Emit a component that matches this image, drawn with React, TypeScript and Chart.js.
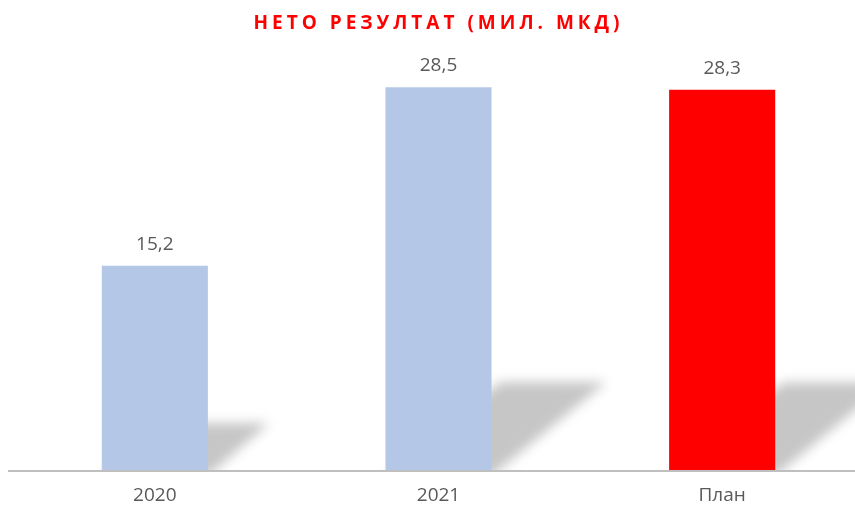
import React, { useEffect, useRef } from "react";
import { Chart, registerables } from "chart.js";

Chart.register(...registerables);

const categories = ["2020", "2021", "План"];
const values = [15.2, 28.5, 28.3];
const barColors = ["#B4C7E7", "#B4C7E7", "#FF0000"];
const titleText = "НЕТО РЕЗУЛТАТ (МИЛ. МКД)";
const yMax = 30;

const fmt = (v: number) => v.toFixed(1).replace(".", ",");

const shadowPlugin = {
  id: "barShadows",
  beforeDatasetsDraw(chart: any) {
    const ctx = chart.ctx;
    const meta = chart.getDatasetMeta(0);
    ctx.save();
    const base0 = chart.scales.y.getPixelForValue(0);
    ctx.beginPath();
    ctx.rect(0, 0, chart.width, base0);
    ctx.clip();
    ctx.filter = "blur(6px)";
    ctx.fillStyle = "#c6c6c6";
    meta.data.forEach((bar: any) => {
      const { x, y, base, width } = bar.getProps(["x", "y", "base", "width"], true);
      const H = base - y;
      const L = x - width / 2;
      const R = x + width / 2;
      const dx = H * 0.3;
      const dy = H * 0.23;
      ctx.beginPath();
      ctx.moveTo(L, base + 6);
      ctx.lineTo(R, base + 6);
      ctx.lineTo(R + dx, base - dy);
      ctx.lineTo(L + dx, base - dy);
      ctx.closePath();
      ctx.fill();
    });
    ctx.restore();
  },
  afterDatasetsDraw(chart: any) {
    const ctx = chart.ctx;
    const meta = chart.getDatasetMeta(0);
    ctx.save();
    ctx.font = '19px "Open Sans"';
    ctx.fillStyle = "#595959";
    ctx.textAlign = "center";
    ctx.textBaseline = "alphabetic";
    meta.data.forEach((bar: any, i: number) => {
      const { x, y } = bar.getProps(["x", "y"], true);
      ctx.fillText(fmt(values[i]), x, y - 16);
    });
    // axis line
    const yb = chart.scales.y.getPixelForValue(0);
    ctx.strokeStyle = "#BFBFBF";
    ctx.lineWidth = 2;
    ctx.beginPath();
    ctx.moveTo(8, yb + 1);
    ctx.lineTo(855, yb + 1);
    ctx.stroke();
    // title
    ctx.font = 'bold 19px "Open Sans"';
    ctx.fillStyle = "#FF0000";
    (ctx as any).letterSpacing = "4px";
    ctx.textAlign = "center";
    ctx.textBaseline = "middle";
    ctx.fillText(titleText, 438.5, 24);
    ctx.restore();
  },
};

export default function App() {
  const ref = useRef<HTMLCanvasElement>(null);
  useEffect(() => {
    if (!ref.current) return;
    const chart = new Chart(ref.current, {
      type: "bar",
      data: {
        labels: categories,
        datasets: [
          {
            data: values,
            backgroundColor: barColors,
            categoryPercentage: 1,
            barPercentage: 0.374,
          },
        ],
      },
      options: {
        responsive: false,
        animation: false,
        devicePixelRatio: 1,
        layout: { padding: { top: 67, left: 13, right: 0, bottom: 0 } },
        plugins: {
          legend: { display: false },
          title: { display: false },
          tooltip: { enabled: false },
        },
        scales: {
          x: {
            grid: { display: false, drawTicks: false },
            border: { display: false },
            ticks: {
              padding: 14,
              color: "#595959",
              font: { family: "Open Sans", size: 19 },
            },
            afterFit: (scale: any) => {
              scale.height = 43;
            },
          },
          y: {
            display: false,
            min: 0,
            max: yMax,
          },
        },
      },
      plugins: [shadowPlugin],
    });
    return () => chart.destroy();
  }, []);
  return (
    <div
      style={{
        position: "absolute",
        left: 0,
        top: 0,
        width: 855,
        height: 513,
        overflow: "hidden",
        background: "#fff",
      }}
    >
      <canvas ref={ref} width={864} height={513} style={{ display: "block" }} />
    </div>
  );
}
